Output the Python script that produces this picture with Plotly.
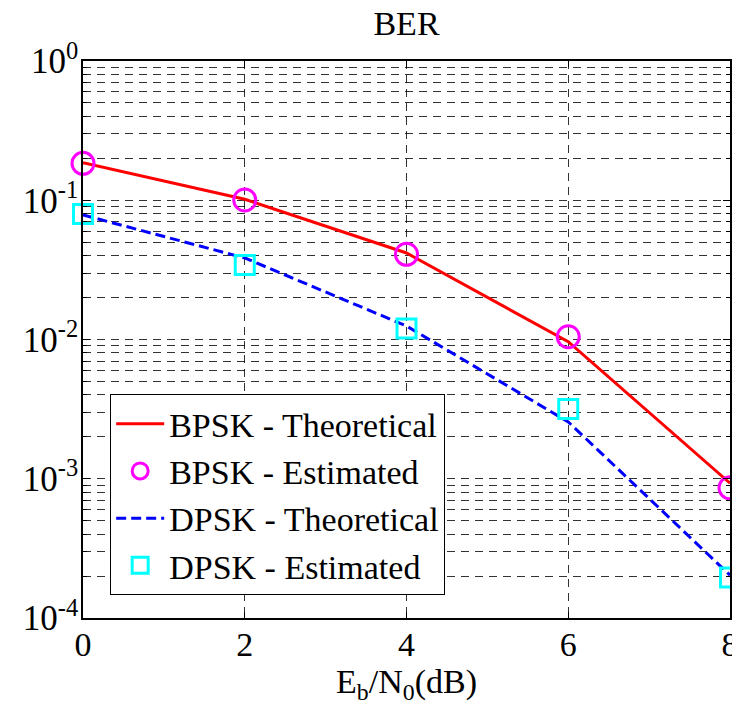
import plotly.graph_objects as go

ebn0_db = [0, 2, 4, 6, 8]
bpsk_theory = [0.186, 0.1016, 0.0418, 0.00964, 0.00093]
bpsk_est = [0.184, 0.1004, 0.0409, 0.01047, 0.00086]
dpsk_theory = [0.0784, 0.0385, 0.0125, 0.00256, 0.000203]
dpsk_est = [0.0797, 0.0343, 0.0120, 0.00317, 0.000195]

y_major_vals = [1e-4, 1e-3, 1e-2, 1e-1, 1.0]
y_major_text = ["10<sup>-4</sup>", "10<sup>-3</sup>", "10<sup>-2</sup>", "10<sup>-1</sup>", "10<sup>0</sup>"]
y_minor_vals = [m * 10.0 ** e for e in [-4, -3, -2, -1] for m in range(2, 10)]

FONT = "Liberation Serif"
GRID = "rgba(0,0,0,0.8)"
GDASH = "8px,6px"

fig = go.Figure()
fig.add_trace(go.Scatter(x=ebn0_db, y=bpsk_theory, mode="lines", name="BPSK - Theoretical",
                         line=dict(color="#ff0000", width=3), cliponaxis=False))
fig.add_trace(go.Scatter(x=ebn0_db, y=bpsk_est, mode="markers", name="BPSK - Estimated",
                         marker=dict(symbol="circle-open", size=22, color="#ff00ff", line=dict(width=3, color="#ff00ff")),
                         cliponaxis=False))
fig.add_trace(go.Scatter(x=ebn0_db, y=dpsk_theory, mode="lines", name="DPSK - Theoretical",
                         line=dict(color="#0000ff", width=3, dash="10px,5px"), cliponaxis=False))
fig.add_trace(go.Scatter(x=ebn0_db, y=dpsk_est, mode="markers", name="DPSK - Estimated",
                         marker=dict(symbol="square-open", size=19, color="#00ffff", line=dict(width=3, color="#00ffff")),
                         cliponaxis=False))

# page body has an 8px default margin, so the figure is 8px smaller and margins are shifted
fig.update_layout(
    width=732, height=704,
    margin=dict(l=75, r=10, t=53, b=94, autoexpand=False),
    paper_bgcolor="white", plot_bgcolor="white",
    font=dict(family=FONT, size=34, color="black"),
    title=dict(text="BER", x=0.5, xref="paper", xanchor="center", y=0.996, yanchor="top",
               pad=dict(t=0, b=0), font=dict(family=FONT, size=34, color="black")),
    showlegend=True,
    legend=dict(x=0.042, y=0.041, xanchor="left", yanchor="bottom",
                bgcolor="white", bordercolor="black", borderwidth=1,
                font=dict(family=FONT, size=34, color="black"),
                tracegroupgap=0, itemwidth=48),
    xaxis=dict(range=[0, 8], tickvals=[0, 2, 4, 6, 8], ticks="inside", ticklen=6,
               tickcolor="black", showline=True, linecolor="black", linewidth=1.5, mirror="allticks",
               showgrid=True, gridcolor=GRID, griddash=GDASH, gridwidth=1, zeroline=False,
               automargin=False, ticklabelstandoff=-5, ticklabeloverflow="allow",
               tickfont=dict(family=FONT, size=34, color="black"),
               title=dict(text="E<sub>b</sub>/N<sub>0</sub>(dB)", standoff=0,
                          font=dict(family=FONT, size=34, color="black"))),
    yaxis=dict(type="log", range=[-4, 0], tickvals=y_major_vals, ticktext=y_major_text,
               ticks="inside", ticklen=7, tickcolor="black", showline=True, linecolor="black",
               linewidth=1.5, mirror="allticks", automargin=False, ticklabelstandoff=-4,
               ticklabeloverflow="allow",
               showgrid=True, gridcolor=GRID, griddash=GDASH, gridwidth=1, zeroline=False,
               tickfont=dict(family=FONT, size=35, color="black"),
               minor=dict(tickvals=y_minor_vals, ticks="inside", ticklen=4, tickcolor="black",
                          showgrid=True, gridcolor=GRID, griddash=GDASH, gridwidth=1)),
)

fig.write_html("out.html")
